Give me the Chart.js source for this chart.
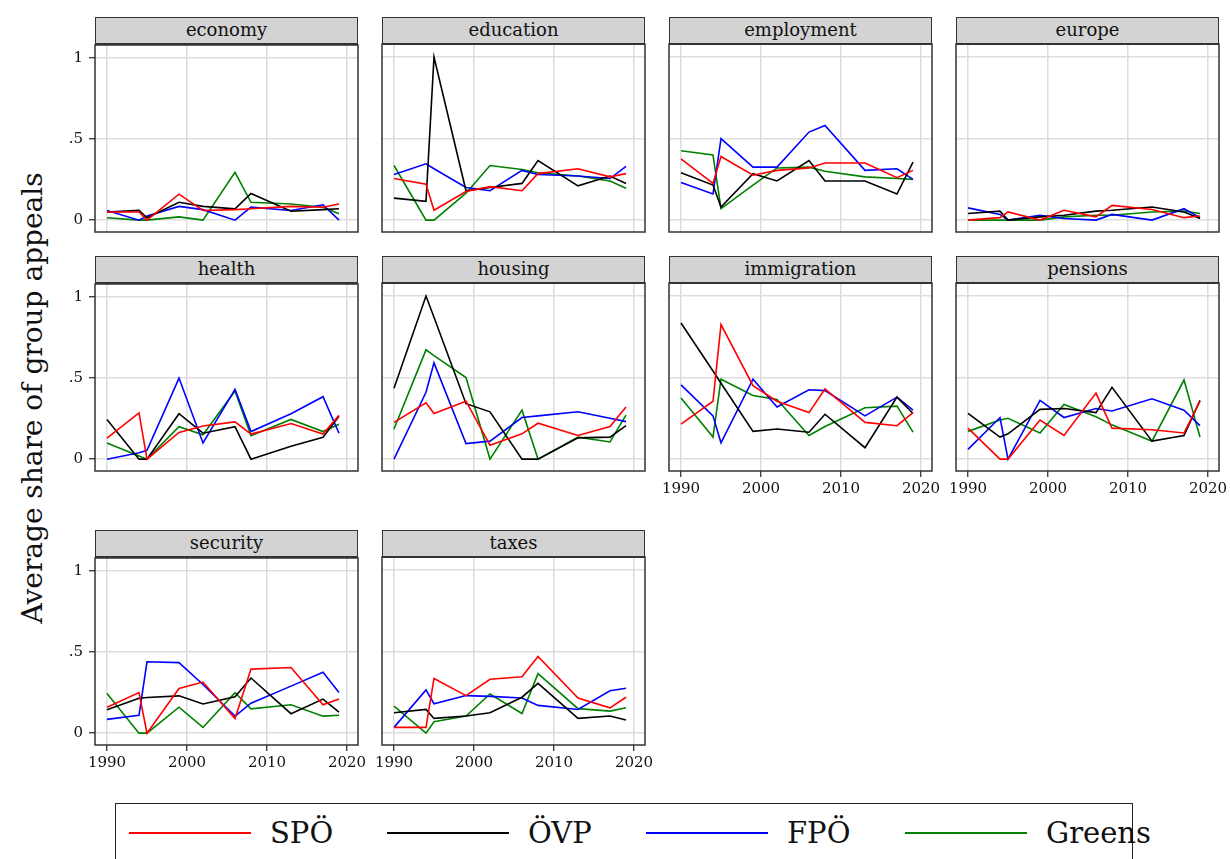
<!DOCTYPE html>
<html>
<head>
<meta charset="utf-8">
<script src="https://cdn.jsdelivr.net/npm/chart.js@4.4.1/dist/chart.umd.min.js"></script>
<style>
    body { margin: 0; background: #fff; font-family: "DejaVu Serif", serif; }
    #page { position: relative; width: 1230px; height: 859px; overflow: hidden; }
    .strip {
        position: absolute; box-sizing: border-box; height: 28px;
        background: #d3d3d3; border: 1.5px solid #333; border-bottom-width: 2px;
        text-align: center; font-size: 18px; line-height: 24px; color: #111;
    }
    .panel { position: absolute; }
    #ytitle {
        position: absolute; left: 32px; top: 398px; white-space: nowrap;
        font-family: "DejaVu Serif", serif; font-size: 28px; color: #111;
        transform: translate(-50%, -50%) rotate(-90deg);
    }
    #legend {
        position: absolute; left: 115px; top: 803px; width: 1018px; height: 80px;
        box-sizing: border-box; border: 1.5px solid #222;
    }
    .item { position: absolute; top: 12px; height: 34px; display: flex; align-items: center; white-space: nowrap; }
    .item .line { width: 122px; height: 2.5px; margin-right: 19px; }
    .item span { font-size: 29px; font-family: "DejaVu Serif", serif; color: #111; }
</style>
</head>
<body>
<div id="page">
    <div id="ytitle">Average share of group appeals</div>
    <div id="legend"></div>
</div>
<script>
// election years
const years = [1990, 1994, 1995, 1999, 2002, 2006, 2008, 2013, 2017, 2019];

const parties = ['SPÖ', 'ÖVP', 'FPÖ', 'Greens'];
const partyColors = ['#ff0000', '#000000', '#0000ff', '#008000'];

const topics = ['economy', 'education', 'employment', 'europe', 'health',
    'housing', 'immigration', 'pensions', 'security', 'taxes'];

// one row per party: SPÖ, ÖVP, FPÖ, Greens
const economy = [
    [0.05, 0.05, 0.0, 0.16, 0.06, 0.065, 0.07, 0.085, 0.08, 0.1],
    [0.05, 0.06, 0.015, 0.11, 0.085, 0.07, 0.165, 0.055, 0.065, 0.07],
    [0.06, 0.0, 0.025, 0.085, 0.065, 0.0, 0.08, 0.06, 0.095, 0.0],
    [0.015, 0.0, 0.0, 0.02, 0.0, 0.295, 0.11, 0.1, 0.08, 0.04]
];
const education = [
    [0.255, 0.22, 0.06, 0.175, 0.205, 0.18, 0.285, 0.315, 0.265, 0.285],
    [0.135, 0.115, 1.0, 0.18, 0.2, 0.225, 0.365, 0.21, 0.27, 0.225],
    [0.28, 0.345, 0.315, 0.2, 0.18, 0.305, 0.28, 0.27, 0.255, 0.33],
    [0.335, 0.0, 0.0, 0.165, 0.335, 0.31, 0.29, 0.27, 0.24, 0.195]
];
const employment = [
    [0.375, 0.225, 0.39, 0.275, 0.305, 0.32, 0.35, 0.35, 0.26, 0.305],
    [0.29, 0.215, 0.08, 0.285, 0.24, 0.365, 0.24, 0.24, 0.16, 0.355],
    [0.23, 0.16, 0.5, 0.325, 0.325, 0.54, 0.58, 0.305, 0.315, 0.25],
    [0.425, 0.4, 0.07, 0.215, 0.32, 0.325, 0.3, 0.265, 0.255, 0.25]
];
const europe = [
    [0.0, 0.015, 0.05, 0.0, 0.06, 0.02, 0.09, 0.065, 0.015, 0.025],
    [0.04, 0.055, 0.0, 0.02, 0.03, 0.055, 0.06, 0.08, 0.05, 0.01],
    [0.075, 0.035, 0.0, 0.03, 0.01, 0.0, 0.035, 0.0, 0.07, 0.015],
    [0.0, 0.0, 0.0, 0.0, 0.02, 0.03, 0.03, 0.05, 0.055, 0.04]
];
const health = [
    [0.13, 0.285, 0.0, 0.165, 0.205, 0.23, 0.155, 0.22, 0.155, 0.27],
    [0.245, 0.0, 0.0, 0.28, 0.16, 0.2, 0.0, 0.08, 0.135, 0.265],
    [0.0, 0.04, 0.055, 0.5, 0.1, 0.43, 0.17, 0.28, 0.385, 0.16],
    [0.1, 0.02, 0.0, 0.2, 0.15, 0.42, 0.145, 0.245, 0.17, 0.215]
];
const housing = [
    [0.225, 0.345, 0.28, 0.355, 0.085, 0.155, 0.22, 0.145, 0.2, 0.32],
    [0.435, 1.0, 0.87, 0.34, 0.29, 0.0, 0.0, 0.13, 0.135, 0.205],
    [0.0, 0.41, 0.59, 0.095, 0.11, 0.255, 0.265, 0.29, 0.25, 0.23],
    [0.185, 0.67, 0.635, 0.5, 0.0, 0.3, 0.0, 0.135, 0.105, 0.27]
];
const immigration = [
    [0.215, 0.355, 0.825, 0.45, 0.355, 0.285, 0.43, 0.225, 0.205, 0.285],
    [0.835, 0.54, 0.465, 0.17, 0.185, 0.165, 0.275, 0.07, 0.38, 0.28],
    [0.455, 0.265, 0.1, 0.49, 0.32, 0.425, 0.42, 0.265, 0.38, 0.3],
    [0.375, 0.135, 0.49, 0.39, 0.365, 0.145, 0.2, 0.315, 0.325, 0.165]
];
const pensions = [
    [0.19, 0.0, 0.0, 0.24, 0.145, 0.405, 0.19, 0.18, 0.16, 0.355],
    [0.28, 0.135, 0.155, 0.305, 0.31, 0.285, 0.44, 0.11, 0.145, 0.36],
    [0.06, 0.255, 0.0, 0.36, 0.255, 0.31, 0.295, 0.37, 0.3, 0.205],
    [0.17, 0.24, 0.25, 0.16, 0.335, 0.26, 0.21, 0.11, 0.485, 0.135]
];
const security = [
    [0.16, 0.25, 0.0, 0.275, 0.315, 0.09, 0.395, 0.405, 0.175, 0.21],
    [0.145, 0.215, 0.22, 0.23, 0.18, 0.225, 0.34, 0.12, 0.21, 0.13],
    [0.085, 0.11, 0.44, 0.435, 0.3, 0.105, 0.185, 0.29, 0.375, 0.25],
    [0.245, 0.0, 0.0, 0.16, 0.035, 0.25, 0.15, 0.175, 0.105, 0.11]
];
const taxes = [
    [0.035, 0.035, 0.335, 0.23, 0.33, 0.345, 0.47, 0.215, 0.155, 0.22],
    [0.125, 0.145, 0.09, 0.105, 0.125, 0.22, 0.305, 0.09, 0.105, 0.08],
    [0.035, 0.265, 0.18, 0.23, 0.225, 0.215, 0.17, 0.145, 0.26, 0.275],
    [0.165, 0.0, 0.07, 0.105, 0.24, 0.12, 0.365, 0.15, 0.135, 0.155]
];

const xTicks = [1990, 2000, 2010, 2020];
const yTicks = [0, 0.5, 1];

const topicData = { economy, education, employment, europe, health,
    housing, immigration, pensions, security, taxes };
// panels that show the year labels underneath
const withYears = ['immigration', 'pensions', 'security', 'taxes'];

// panel frame geometry
const colLeft = [95, 382, 669, 956];
const rowTop = [17, 256, 530];
const boxW = 263, stripH = 27, plotH = 188;
// fixed room around every plot so chart.js never shifts the frame
const yW = 50, xH = 35, padT = 14, padR = 25;

const page = document.getElementById('page');
const serif = 'DejaVu Serif';

// frame around the plotting area
const boxPlugin = {
    id: 'box',
    afterDraw(chart) {
        const a = chart.chartArea;
        const ctx = chart.ctx;
        ctx.save();
        ctx.strokeStyle = '#333';
        ctx.lineWidth = 1.5;
        ctx.strokeRect(a.left, a.top, a.right - a.left, a.bottom - a.top);
        ctx.restore();
    }
};

topics.forEach((topic, i) => {
    const col = i % 4, row = Math.floor(i / 4);
    const left = colLeft[col], top = rowTop[row];
    const showY = col === 0;
    const showX = withYears.includes(topic);

    const holder = document.createElement('div');
    holder.className = 'panel';
    holder.style.left = (left - yW) + 'px';
    holder.style.top = (top + stripH - padT) + 'px';
    const canvas = document.createElement('canvas');
    canvas.width = yW + boxW + padR;
    canvas.height = padT + plotH + xH;
    holder.appendChild(canvas);
    page.appendChild(holder);

    const strip = document.createElement('div');
    strip.className = 'strip';
    strip.style.left = left + 'px';
    strip.style.top = top + 'px';
    strip.style.width = boxW + 'px';
    strip.textContent = topic;
    page.appendChild(strip);

    const datasets = parties.map((p, k) => ({
        label: p,
        data: years.map((yr, j) => ({ x: yr, y: topicData[topic][k][j] })),
        borderColor: partyColors[k],
        backgroundColor: partyColors[k],
        borderWidth: 1.6,
        pointRadius: 0,
        tension: 0
    }));

    new Chart(canvas, {
        type: 'line',
        data: { datasets: datasets },
        options: {
            responsive: false,
            animation: false,
            layout: { padding: { top: padT, left: 0, right: padR, bottom: 0 } },
            plugins: { legend: { display: false }, tooltip: { enabled: false } },
            scales: {
                x: {
                    type: 'linear',
                    min: 1988.5,
                    max: 2021.375,
                    afterBuildTicks: s => { s.ticks = xTicks.map(v => ({ value: v })); },
                    afterFit: s => { s.height = xH; },
                    border: { display: false },
                    grid: { color: '#dddddd', lineWidth: 1.5, drawTicks: showX, tickLength: 6, tickColor: '#222', tickWidth: 1.2 },
                    ticks: {
                        display: showX, padding: 3, maxRotation: 0, color: '#111',
                        font: { family: serif, size: 15 },
                        callback: v => String(v)
                    }
                },
                y: {
                    min: -0.073,
                    max: 1.08,
                    afterBuildTicks: s => { s.ticks = yTicks.map(v => ({ value: v })); },
                    afterFit: s => { s.width = yW; },
                    border: { display: false },
                    grid: { color: '#dddddd', lineWidth: 1.5, drawTicks: showY, tickLength: 6, tickColor: '#222', tickWidth: 1.2 },
                    ticks: {
                        display: showY, padding: 6, color: '#111',
                        font: { family: serif, size: 15 },
                        callback: v => v === 0.5 ? '.5' : String(v)
                    }
                }
            }
        },
        plugins: [boxPlugin]
    });
});

// legend below the panels
const legend = document.getElementById('legend');
parties.forEach((p, k) => {
    const item = document.createElement('div');
    item.className = 'item';
    item.style.left = Math.round(12.5 + k * 258.7) + 'px';
    const line = document.createElement('div');
    line.className = 'line';
    line.style.background = partyColors[k];
    const label = document.createElement('span');
    label.textContent = p;
    item.appendChild(line);
    item.appendChild(label);
    legend.appendChild(item);
});
</script>
</body>
</html>
